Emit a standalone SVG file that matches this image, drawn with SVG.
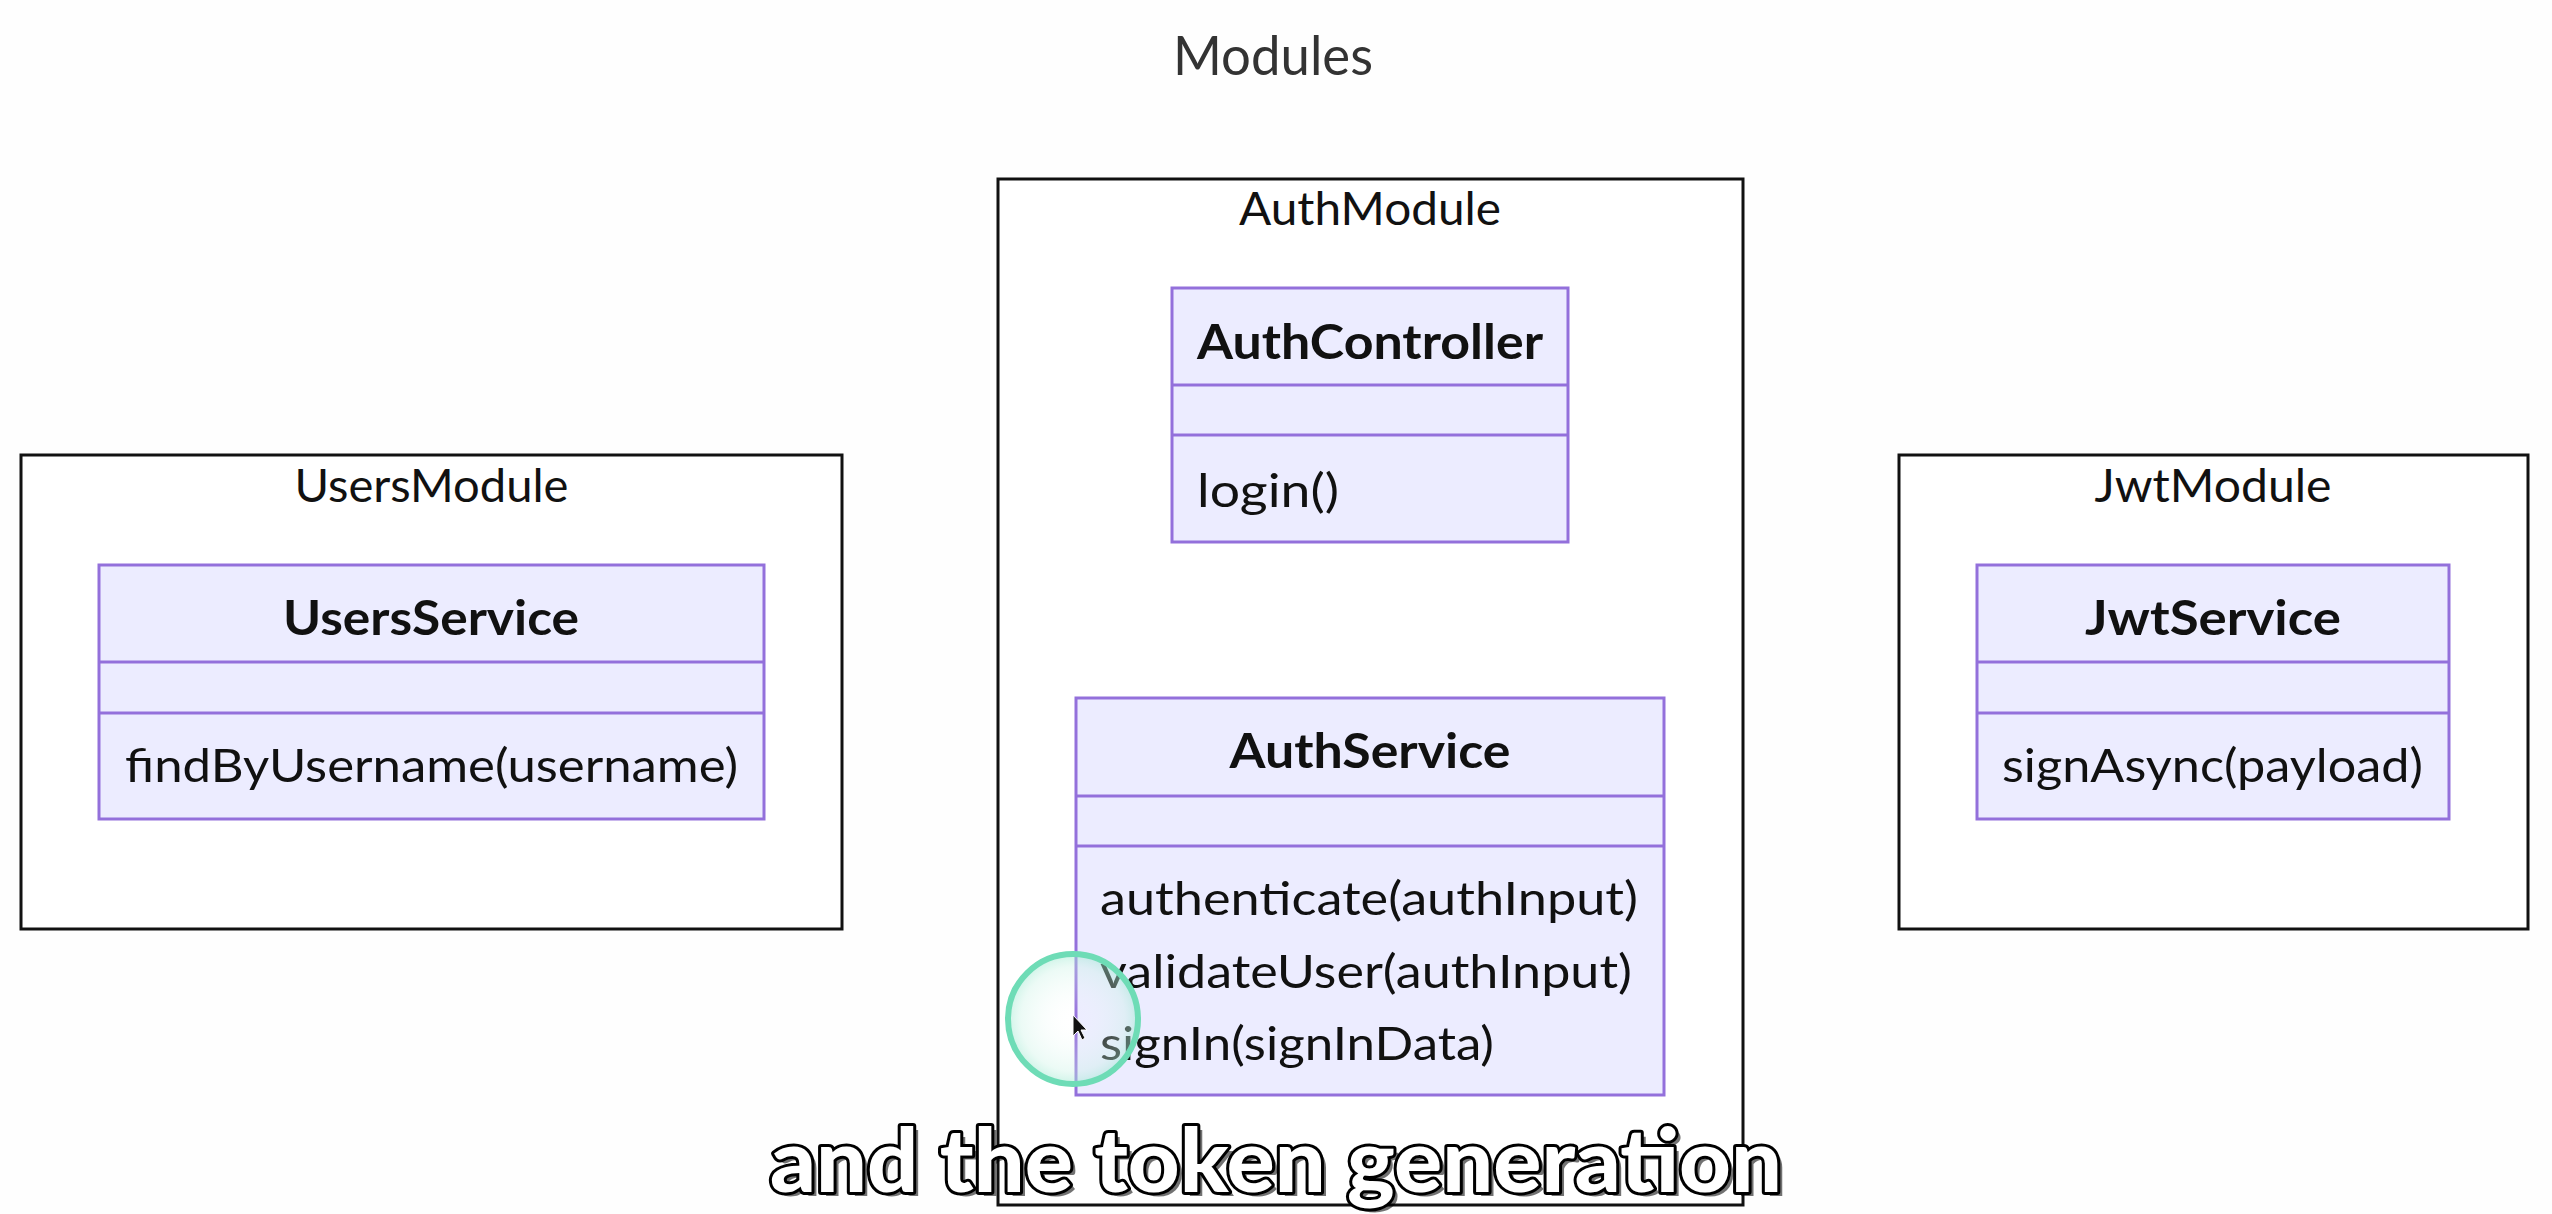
<svg xmlns="http://www.w3.org/2000/svg" width="2552" height="1214" viewBox="0 0 2552 1214">
  <defs>
    <style>
      .bg { fill: #fefefe; }
      .module { fill: #ffffff; stroke: #111111; stroke-width: 3; }
      .cls { fill: #ececff; stroke: #9370db; stroke-width: 3; }
      .div { stroke: #9370db; stroke-width: 3; }
      .title { font-family: Lato, "Open Sans", sans-serif; font-size: 54px; fill: #333333; text-anchor: middle; }
      .mtitle { font-family: Lato, "Open Sans", sans-serif; font-size: 46px; fill: #111111; text-anchor: middle; }
      .cname { font-family: Lato, "Open Sans", sans-serif; font-size: 48px; font-weight: bold; fill: #111111; text-anchor: middle; }
      .member { font-family: Lato, "Open Sans", sans-serif; font-size: 46px; fill: #111111; }
      .caption { font-family: Lato, "Open Sans", sans-serif; font-size: 88px; font-weight: 900; fill: #ffffff; stroke: #000000; stroke-width: 6; paint-order: stroke; stroke-linejoin: round; }
      .capshadow { font-family: Lato, "Open Sans", sans-serif; font-size: 88px; font-weight: 900; fill: #000000; opacity: 0.55; }
    </style>
    <radialGradient id="glow" cx="0.5" cy="0.5" r="0.5">
      <stop offset="0" stop-color="#ffffff" stop-opacity="0"/>
      <stop offset="0.8" stop-color="#c8f2e4" stop-opacity="0.35"/>
      <stop offset="1" stop-color="#9be8cf" stop-opacity="0.5"/>
    </radialGradient>
  </defs>

  <rect class="bg" x="0" y="0" width="2552" height="1214"/>

  <text class="title" x="1273" y="75" textLength="200" lengthAdjust="spacingAndGlyphs">Modules</text>

  <g id="UsersModule">
    <rect class="module" x="21" y="455" width="821" height="474"/>
    <text class="mtitle" x="431.5" y="502" textLength="274" lengthAdjust="spacingAndGlyphs">UsersModule</text>
  </g>

  <g id="AuthModule">
    <rect class="module" x="998" y="179" width="745" height="1026"/>
    <text class="mtitle" x="1370" y="225" textLength="262" lengthAdjust="spacingAndGlyphs">AuthModule</text>
  </g>

  <g id="JwtModule">
    <rect class="module" x="1899" y="455" width="629" height="474"/>
    <text class="mtitle" x="2213" y="502" textLength="237" lengthAdjust="spacingAndGlyphs">JwtModule</text>
  </g>

  <g id="UsersService">
    <rect class="cls" x="99" y="565" width="665" height="254"/>
    <line class="div" x1="99" y1="662" x2="764" y2="662"/>
    <line class="div" x1="99" y1="713" x2="764" y2="713"/>
    <text class="cname" x="431" y="635" textLength="296" lengthAdjust="spacingAndGlyphs">UsersService</text>
    <text class="member" x="125" y="782" textLength="613" lengthAdjust="spacingAndGlyphs">findByUsername(username)</text>
  </g>

  <g id="AuthController">
    <rect class="cls" x="1172" y="288" width="396" height="254"/>
    <line class="div" x1="1172" y1="385" x2="1568" y2="385"/>
    <line class="div" x1="1172" y1="435" x2="1568" y2="435"/>
    <text class="cname" x="1370" y="359" textLength="346" lengthAdjust="spacingAndGlyphs">AuthController</text>
    <text class="member" x="1197" y="507" textLength="142" lengthAdjust="spacingAndGlyphs">login()</text>
  </g>

  <g id="AuthService">
    <rect class="cls" x="1076" y="698" width="588" height="397"/>
    <line class="div" x1="1076" y1="796" x2="1664" y2="796"/>
    <line class="div" x1="1076" y1="846" x2="1664" y2="846"/>
    <text class="cname" x="1370" y="768" textLength="281" lengthAdjust="spacingAndGlyphs">AuthService</text>
    <text class="member" x="1100" y="915" textLength="538" lengthAdjust="spacingAndGlyphs">authenticate(authInput)</text>
    <text class="member" x="1100" y="988" textLength="532" lengthAdjust="spacingAndGlyphs">validateUser(authInput)</text>
    <text class="member" x="1100" y="1060" textLength="394" lengthAdjust="spacingAndGlyphs">signIn(signInData)</text>
  </g>

  <g id="JwtService">
    <rect class="cls" x="1977" y="565" width="472" height="254"/>
    <line class="div" x1="1977" y1="662" x2="2449" y2="662"/>
    <line class="div" x1="1977" y1="713" x2="2449" y2="713"/>
    <text class="cname" x="2213" y="635" textLength="256" lengthAdjust="spacingAndGlyphs">JwtService</text>
    <text class="member" x="2002" y="782" textLength="421" lengthAdjust="spacingAndGlyphs">signAsync(payload)</text>
  </g>

  <g id="connectors"></g>

  <g id="cursor-highlight">
    <circle cx="1073" cy="1019" r="65" fill="url(#glow)" stroke="#6edcb6" stroke-width="6"/>
    <path d="M1073 1015 L1073 1036 L1078 1031 L1082 1040 L1085 1038 L1081 1030 L1087 1030 Z" fill="#111111" stroke="#ffffff" stroke-width="1"/>
  </g>

  <g id="caption">
    <text class="capshadow" x="775" y="1196" textLength="1012" lengthAdjust="spacingAndGlyphs">and the token generation</text>
    <text class="caption" x="770" y="1192" textLength="1012" lengthAdjust="spacingAndGlyphs">and the token generation</text>
  </g>
</svg>
